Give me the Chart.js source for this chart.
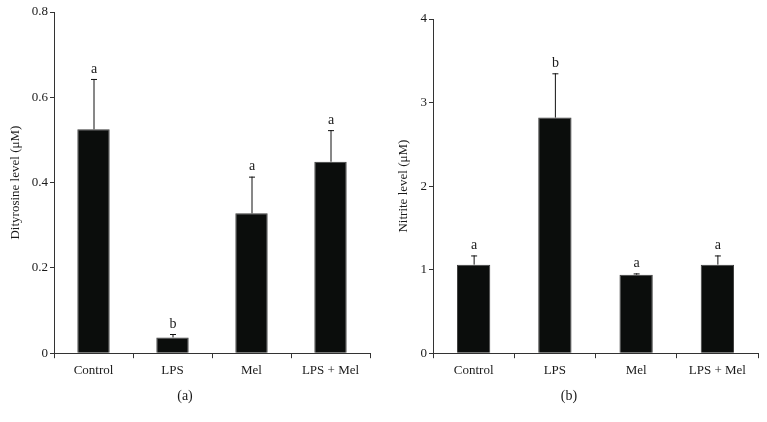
<!DOCTYPE html>
<html>
<head>
<meta charset="utf-8">
<script src="https://cdn.jsdelivr.net/npm/chart.js@4"></script>
<style>
	html, body { margin: 0; padding: 0; background: #fff; }
	.panel { position: absolute; top: 0; height: 422px; }
	#panelA { left: 0; width: 380px; }
	#panelB { left: 380px; width: 387px; }
</style>
</head>
<body>
<div class="panel" id="panelA"><canvas id="chartA"></canvas></div>
<div class="panel" id="panelB"><canvas id="chartB"></canvas></div>
<script>
"use strict";

const categories = ["Control", "LPS", "Mel", "LPS + Mel"];

const dityrosine = [0.525, 0.037, 0.328, 0.449];
const dityrosineErr = [0.118, 0.008, 0.086, 0.074];
const dityrosineLetters = ["a", "b", "a", "a"];

const nitrite = [1.06, 2.82, 0.94, 1.06];
const nitriteErr = [0.11, 0.53, 0.015, 0.11];
const nitriteLetters = ["a", "b", "a", "a"];

const FONT = "'Liberation Serif', 'DejaVu Serif', serif";
const AXIS_COLOR = "#333";
const TEXT_COLOR = "#1a1a1a";

// error bars (upper only) and significance letters
const errorBarPlugin = {
	id: "errorBars",
	afterDatasetsDraw(chart, args, opts) {
		const { ctx, scales } = chart;
		const meta = chart.getDatasetMeta(0);
		const values = chart.data.datasets[0].data;
		ctx.save();
		meta.data.forEach((bar, i) => {
			const yTop = scales.y.getPixelForValue(values[i] + opts.errors[i]);
			ctx.strokeStyle = "#111";
			ctx.lineWidth = 1;
			ctx.beginPath();
			ctx.moveTo(bar.x + 0.5, bar.y);
			ctx.lineTo(bar.x + 0.5, yTop);
			ctx.moveTo(bar.x - 2.5, yTop + 0.5);
			ctx.lineTo(bar.x + 3.5, yTop + 0.5);
			ctx.stroke();

			ctx.fillStyle = TEXT_COLOR;
			ctx.font = "14px " + FONT;
			ctx.textAlign = "center";
			ctx.textBaseline = "bottom";
			ctx.fillText(opts.letters[i], bar.x + 0.5, yTop - 3);
		});
		ctx.restore();
	},
};

function makePanel({ element, values, errors, letters, yMax, yStep, yTitle, panelTitle, pad, yTitlePad }) {
	const options = {
		type: "bar",
		data: {
			labels: categories,
			datasets: [
				{
					data: values,
					backgroundColor: "#0b0d0c",
					borderColor: "#3c3c3c",
					borderWidth: 1,
					categoryPercentage: 1,
					barPercentage: 0.41,
				},
			],
		},
		options: {
			responsive: true,
			maintainAspectRatio: false,
			animation: false,
			layout: { padding: { left: 0, bottom: 0, top: pad.top, right: pad.right } },
			plugins: {
				legend: { display: false },
				tooltip: { enabled: false },
				title: {
					display: true,
					position: "bottom",
					text: panelTitle,
					color: TEXT_COLOR,
					font: { family: FONT, size: 14, weight: "normal" },
					padding: { top: 0, bottom: 17 },
				},
				errorBars: { errors, letters },
			},
			scales: {
				x: {
					grid: { offset: true, drawOnChartArea: false, tickLength: 5, color: AXIS_COLOR },
					border: { color: AXIS_COLOR, width: 1 },
					ticks: { color: TEXT_COLOR, font: { family: FONT, size: 13 }, padding: 5 },
					afterFit(scale) {
						scale.height = 35;
					},
				},
				y: {
					min: 0,
					max: yMax,
					grid: { drawOnChartArea: false, tickLength: 4, color: AXIS_COLOR },
					border: { color: AXIS_COLOR, width: 1 },
					ticks: { stepSize: yStep, color: TEXT_COLOR, font: { family: FONT, size: 13 }, padding: 2 },
					title: {
						display: true,
						text: yTitle,
						color: TEXT_COLOR,
						font: { family: FONT, size: 13 },
						padding: { top: yTitlePad, bottom: 0 },
					},
					afterFit(scale) {
						scale.width = pad.left;
					},
				},
			},
		},
		plugins: [errorBarPlugin],
	};
	return new Chart(element, options);
}

makePanel({
	element: document.getElementById("chartA"),
	values: dityrosine,
	errors: dityrosineErr,
	letters: dityrosineLetters,
	yMax: 0.8,
	yStep: 0.2,
	yTitle: "Dityrosine level (μM)",
	panelTitle: "(a)",
	pad: { left: 54, top: 12, right: 10 },
	yTitlePad: 8,
});

makePanel({
	element: document.getElementById("chartB"),
	values: nitrite,
	errors: nitriteErr,
	letters: nitriteLetters,
	yMax: 4,
	yStep: 1,
	yTitle: "Nitrite level (μM)",
	panelTitle: "(b)",
	pad: { left: 53, top: 19, right: 9 },
	yTitlePad: 16,
});
</script>
</body>
</html>
